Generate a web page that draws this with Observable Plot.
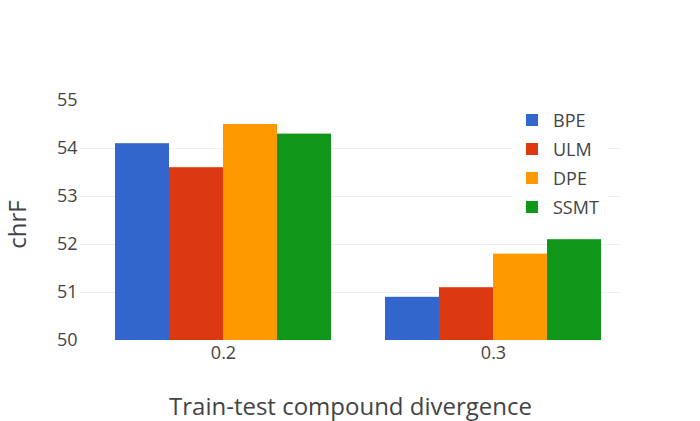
<!DOCTYPE html>
<html>
<head>
<meta charset="utf-8">
<script src="https://cdn.jsdelivr.net/npm/d3@7"></script>
<script src="https://cdn.jsdelivr.net/npm/@observablehq/plot@0.6"></script>
<style>
  body { margin: 0; background: #fff; font-family: "Open Sans", sans-serif; }
  #wrap { position: relative; width: 700px; height: 421px; }
  #wrap svg { position: absolute; left: 0; top: 0; background: transparent; }
  #legend { position: absolute; left: 512px; top: 105px; width: 96px; background: #fff;
            font-family: "Open Sans", sans-serif; font-size: 18px; color: #444; }
  .row { height: 29px; display: flex; align-items: center; }
  .sw { width: 12px; height: 12px; margin-left: 14px; margin-right: 15px; }
</style>
</head>
<body>
<div id="wrap"></div>
<script>
const groups = ["0.2", "0.3"];
const methods = ["BPE", "ULM", "DPE", "SSMT"];
const colors = ["#3366cc", "#dc3912", "#ff9900", "#109618"];
const values02 = [54.1, 53.6, 54.5, 54.3];
const values03 = [50.9, 51.1, 51.8, 52.1];
const yTicks = [50, 51, 52, 53, 54, 55];
const gridTicks = [51, 52, 53, 54];
const yDomain = [50, 55];
const xTitle = "Train-test compound divergence";
const yTitle = "chrF";

const data = [];
methods.forEach((m, i) => {
  data.push({group: groups[0], method: m, value: values02[i]});
  data.push({group: groups[1], method: m, value: values03[i]});
});

const font = "Open Sans, sans-serif";
const W = 700, H = 421;

const bg = Plot.plot({
  width: W, height: H,
  marginLeft: 80, marginRight: 80, marginTop: 100, marginBottom: 81,
  style: {fontFamily: font, color: "#444", background: "transparent"},
  y: {domain: yDomain, axis: null},
  marks: [
    Plot.ruleY(gridTicks, {stroke: "#eeeeee", strokeWidth: 1}),
    Plot.axisY(yTicks, {tickSize: 0, tickPadding: 3, fontSize: 18, fill: "#444", label: null}),
    Plot.text([xTitle], {frameAnchor: "bottom", dy: 74, text: d => d, fontSize: 24, fill: "#444", fontFamily: font}),
    Plot.text([yTitle], {frameAnchor: "left", dx: -62, dy: 4, rotate: -90, textAnchor: "middle", text: d => d, fontSize: 24, fill: "#444", fontFamily: font})
  ]
});

const fg = Plot.plot({
  width: W, height: H,
  marginLeft: 115, marginRight: 99, marginTop: 100, marginBottom: 81,
  style: {fontFamily: font, color: "#444", background: "transparent"},
  fx: {domain: groups, paddingInner: 0.2, paddingOuter: 0, axis: null},
  x: {domain: methods, padding: 0, axis: null},
  y: {domain: yDomain, axis: null},
  color: {domain: methods, range: colors},
  marks: [
    Plot.barY(data, {fx: "group", x: "method", y1: yDomain[0], y2: "value", fill: "method"}),
    Plot.axisFx({anchor: "bottom", tickSize: 0, tickPadding: 6, fontSize: 18, fill: "#444", label: null})
  ]
});

const wrap = document.getElementById("wrap");
wrap.appendChild(bg);
wrap.appendChild(fg);

const legend = document.createElement("div");
legend.id = "legend";
methods.forEach((m, i) => {
  const row = document.createElement("div");
  row.className = "row";
  const sw = document.createElement("div");
  sw.className = "sw";
  sw.style.background = colors[i];
  const t = document.createElement("span");
  t.textContent = m;
  row.appendChild(sw);
  row.appendChild(t);
  legend.appendChild(row);
});
wrap.appendChild(legend);
</script>
</body>
</html>
